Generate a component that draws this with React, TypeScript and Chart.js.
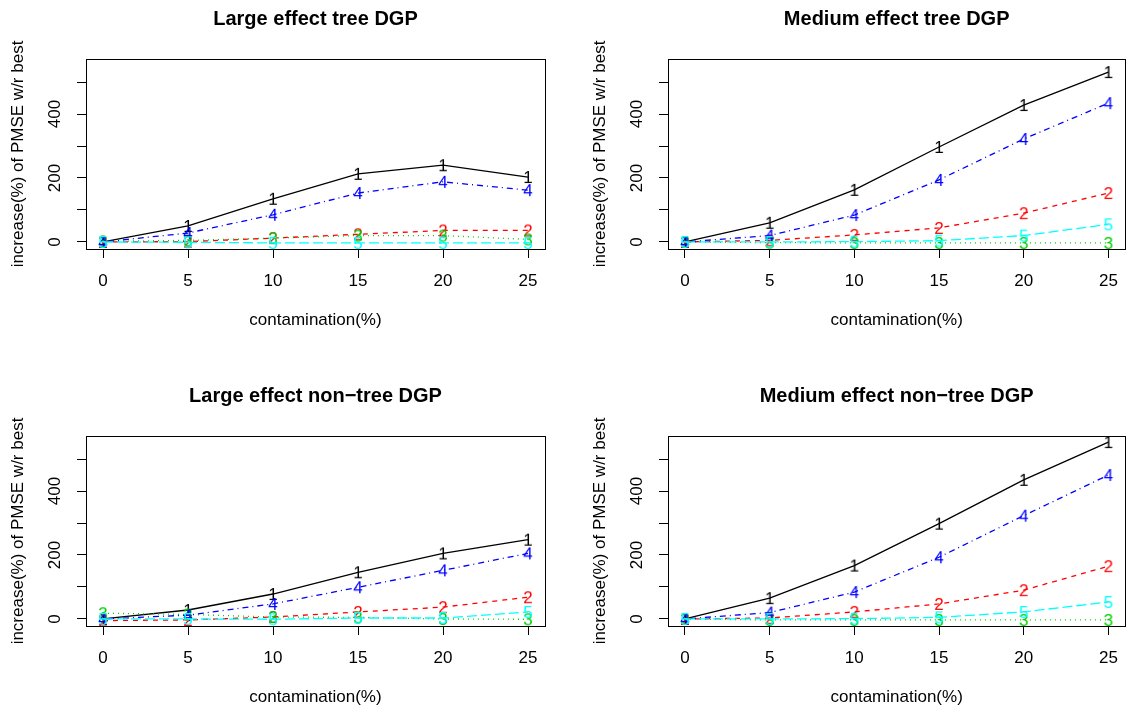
import React, { useEffect, useRef } from 'react';
import { Chart, registerables } from 'chart.js';

Chart.register(...registerables);

// ---- data ----
const contamination = [0, 5, 10, 15, 20, 25];
const xTicks = [0, 5, 10, 15, 20, 25];
const yTicks = [0, 100, 200, 300, 400, 500];
const yLabelTicks = [0, 200, 400];
const methodLabels = ['1', '2', '3', '4', '5'];

const panelTitles = [
  'Large effect tree DGP',
  'Medium effect tree DGP',
  'Large effect non\u2212tree DGP',
  'Medium effect non\u2212tree DGP',
];
const xTitle = 'contamination(%)';
const yTitle = 'increase(%) of PMSE w/r best';

// Large effect tree DGP
const largeTree1 = [0, 50, 135, 213, 240, 203];
const largeTree2 = [0, 1, 12, 24, 36, 36];
const largeTree3 = [2, 5, 12, 20, 20, 8];
const largeTree4 = [0, 28, 85, 153, 188, 162];
const largeTree5 = [0, -1, -3, -3, -3, -3];

// Medium effect tree DGP
const mediumTree1 = [0, 60, 163, 297, 428, 531];
const mediumTree2 = [0, 5, 22, 44, 90, 153];
const mediumTree3 = [0, -2, -3, -3, -3, -3];
const mediumTree4 = [0, 20, 84, 194, 322, 434];
const mediumTree5 = [0, 0, 1, 4, 20, 55];

// Large effect non-tree DGP
const largeNonTree1 = [0, 28, 78, 146, 205, 248];
const largeNonTree2 = [-5, -3, 6, 22, 37, 68];
const largeNonTree3 = [18, 14, 6, 5, 0, -1];
const largeNonTree4 = [0, 12, 47, 99, 152, 205];
const largeNonTree5 = [0, 0, -1, 3, 3, 22];

// Medium effect non-tree DGP
const mediumNonTree1 = [0, 65, 167, 298, 435, 553];
const mediumNonTree2 = [0, 3, 22, 47, 90, 165];
const mediumNonTree3 = [0, -3, -3, -3, -3, -3];
const mediumNonTree4 = [0, 20, 84, 193, 323, 450];
const mediumNonTree5 = [0, 0, 1, 5, 22, 53];

const panelSeries = [
  [largeTree1, largeTree2, largeTree3, largeTree4, largeTree5],
  [mediumTree1, mediumTree2, mediumTree3, mediumTree4, mediumTree5],
  [largeNonTree1, largeNonTree2, largeNonTree3, largeNonTree4, largeNonTree5],
  [mediumNonTree1, mediumNonTree2, mediumNonTree3, mediumNonTree4, mediumNonTree5],
];

// ---- styles ----
const FONT = "'Liberation Sans', Arial, Helvetica, sans-serif";
const AXIS_SIZE = 17;
const colors = ['#000000', '#FF0000', '#00CD00', '#0000FF', '#00FFFF'];
const dashes = [[], [5, 5], [1, 4], [1, 4, 6, 4], [10, 4]];

Chart.defaults.font.family = FONT;
Chart.defaults.color = '#000000';

function makeMarker(txt: string, color: string): HTMLCanvasElement {
  const c = document.createElement('canvas');
  c.width = 16;
  c.height = 20;
  const ctx = c.getContext('2d')!;
  ctx.font = `${AXIS_SIZE}px ${FONT}`;
  ctx.fillStyle = color;
  ctx.textAlign = 'center';
  ctx.textBaseline = 'alphabetic';
  ctx.fillText(txt, c.width / 2, c.height / 2 + 0.716 * AXIS_SIZE / 2);
  return c;
}

const framePlugin = {
  id: 'panelFrame',
  afterDraw(chart: any, _args: any, opts: any) {
    const { ctx, chartArea } = chart;
    const l = Math.round(chartArea.left) + 0.5;
    const t = Math.round(chartArea.top) + 0.5;
    const r = Math.round(chartArea.right) + 0.5;
    const b = Math.round(chartArea.bottom) + 0.5;
    ctx.save();
    ctx.strokeStyle = '#000';
    ctx.lineWidth = 1;
    ctx.setLineDash([]);
    ctx.strokeRect(l, t, r - l, b - t);
    ctx.font = `bold 20px ${FONT}`;
    ctx.fillStyle = '#000';
    ctx.textAlign = 'center';
    ctx.textBaseline = 'middle';
    ctx.fillText(opts.text, (chartArea.left + chartArea.right) / 2, 19);
    ctx.restore();
  },
};

type PanelProps = {
  idx: number;
  left: number;
  top: number;
  width: number;
  height: number;
  padRight: number;
};

function Panel({ idx, left, top, width, height, padRight }: PanelProps) {
  const ref = useRef<HTMLCanvasElement>(null);
  useEffect(() => {
    const markers = methodLabels.map((m, i) => makeMarker(m, colors[i]));
    const series = panelSeries[idx];
    const chart = new Chart(ref.current!, {
      type: 'line',
      data: {
        datasets: series.map((vals, i) => ({
          label: methodLabels[i],
          data: contamination.map((x, j) => ({ x, y: vals[j] })),
          borderColor: colors[i],
          backgroundColor: colors[i],
          borderWidth: 1.3,
          borderDash: dashes[i],
          pointStyle: markers[i] as any,
          pointRadius: 4,
          pointHoverRadius: 4,
          fill: false,
          tension: 0,
          order: 5 - i,
        })),
      },
      options: {
        responsive: false,
        animation: false,
        events: [],
        layout: { autoPadding: false, padding: { top: 59, right: padRight, left: 0, bottom: 0 } },
        plugins: {
          legend: { display: false },
          tooltip: { enabled: false },
          title: { display: false },
          panelFrame: { text: panelTitles[idx] },
        } as any,
        scales: {
          x: {
            type: 'linear',
            min: -1,
            max: 26,
            afterBuildTicks: (s: any) => {
              s.ticks = xTicks.map((v) => ({ value: v }));
            },
            afterFit: (s: any) => {
              s.height = 84;
            },
            grid: {
              display: true,
              drawOnChartArea: false,
              drawTicks: true,
              tickLength: 9,
              color: '#000',
              lineWidth: 1,
            },
            border: { display: false },
            ticks: {
              autoSkip: false,
              maxRotation: 0,
              minRotation: 0,
              padding: 13,
              color: '#000',
              font: { size: AXIS_SIZE, family: FONT },
              callback: (v: any) => String(v),
            },
            title: {
              display: true,
              text: xTitle,
              color: '#000',
              font: { size: AXIS_SIZE, family: FONT },
              padding: { top: 0, bottom: 2 },
            },
          },
          y: {
            type: 'linear',
            min: -22,
            max: 572,
            afterBuildTicks: (s: any) => {
              s.ticks = yTicks.map((v) => ({ value: v }));
            },
            afterFit: (s: any) => {
              s.width = 86;
            },
            grid: {
              display: true,
              drawOnChartArea: false,
              drawTicks: true,
              tickLength: 9,
              color: '#000',
              lineWidth: 1,
            },
            border: { display: false },
            ticks: {
              autoSkip: false,
              minRotation: 90,
              maxRotation: 90,
              crossAlign: 'center',
              padding: 8,
              color: '#000',
              font: { size: AXIS_SIZE, family: FONT },
              callback: (v: any) => (yLabelTicks.includes(v) ? String(v) : ''),
            },
            title: {
              display: true,
              text: yTitle,
              color: '#000',
              font: { size: AXIS_SIZE, family: FONT },
              padding: { top: 8, bottom: 0 },
            },
          },
        },
      },
      plugins: [framePlugin],
    } as any);
    return () => chart.destroy();
  }, [idx, padRight]);
  return (
    <canvas
      ref={ref}
      width={width}
      height={height}
      style={{ position: 'absolute', left, top, width, height }}
    />
  );
}

export default function App() {
  return (
    <div
      style={{
        position: 'absolute',
        left: 0,
        top: 0,
        width: 1131,
        height: 710,
        background: '#ffffff',
        overflow: 'hidden',
      }}
    >
      <Panel idx={0} left={0} top={0} width={565} height={333} padRight={20} />
      <Panel idx={1} left={582} top={0} width={549} height={333} padRight={4} />
      <Panel idx={2} left={0} top={377} width={565} height={333} padRight={20} />
      <Panel idx={3} left={582} top={377} width={549} height={333} padRight={4} />
    </div>
  );
}
